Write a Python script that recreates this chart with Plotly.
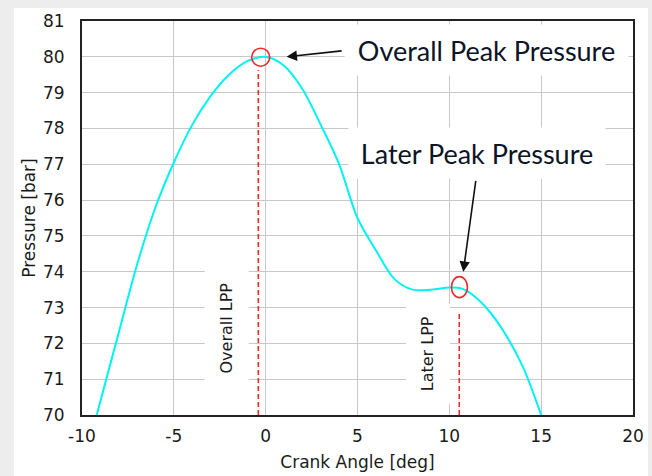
import plotly.graph_objects as go

# ---- data ----
crank_angle = [-9.2, -8.0, -7.0, -6.0, -5.0, -4.0, -3.0, -2.0, -1.0, 0.0,
               1.0, 2.0, 3.0, 4.0, 5.0, 6.0, 7.0, 8.0, 9.0, 10.0, 10.5,
               11.0, 12.0, 13.0, 14.0, 15.0]
pressure = [70.0, 72.3, 74.2, 75.8, 77.05, 78.1, 78.9, 79.5, 79.88, 80.0,
            79.75, 79.1, 78.1, 77.0, 75.5, 74.6, 73.8, 73.5, 73.5, 73.56, 73.55,
            73.45, 73.0, 72.3, 71.35, 70.0]

overall_lpp_x = -0.4
overall_peak = (-0.27, 79.99)
overall_line_top = 79.63
later_lpp_x = 10.54
later_peak = (10.55, 73.57)
later_line_top = 72.9

x_ticks = [-10, -5, 0, 5, 10, 15, 20]
x_tick_text = ["-10", "-5", "0", "5", "10", "15", "20"]
y_ticks = list(range(70, 82))

label_overall_peak = "Overall Peak Pressure"
label_later_peak = "Later Peak Pressure"
label_overall_lpp = "Overall LPP"
label_later_lpp = "Later LPP"

CYAN = "#00f2f2"
RED = "#ee2a2a"
TXT = "#1a1a1a"

fig = go.Figure()

fig.add_trace(go.Scatter(x=crank_angle, y=pressure, mode="lines",
                         line=dict(color=CYAN, width=2, shape="spline", smoothing=0.9),
                         hoverinfo="skip"))
fig.add_trace(go.Scatter(x=[overall_lpp_x, overall_lpp_x], y=[70, overall_line_top], mode="lines",
                         line=dict(color=RED, width=1.6, dash="5px,3px")))
fig.add_trace(go.Scatter(x=[later_lpp_x, later_lpp_x], y=[70, later_line_top], mode="lines",
                         line=dict(color=RED, width=1.6, dash="5px,3px")))

shapes = [
    # white card on grey page
    dict(type="rect", xref="paper", yref="paper", x0=-0.1234, x1=1.0272, y0=-0.17, y1=1.033,
         fillcolor="white", line=dict(width=0), layer="below"),
    dict(type="circle", xref="x", yref="y", xsizemode="pixel", ysizemode="pixel",
         xanchor=overall_peak[0], yanchor=overall_peak[1], x0=-9, x1=9, y0=-9, y1=9,
         line=dict(color=RED, width=1.6)),
    dict(type="circle", xref="x", yref="y", xsizemode="pixel", ysizemode="pixel",
         xanchor=later_peak[0], yanchor=later_peak[1], x0=-8, x1=8, y0=-10.5, y1=10.5,
         line=dict(color=RED, width=1.6)),
]

big_font = dict(family="Lato, Carlito, sans-serif", size=27, color="#0c1426")
small_font = dict(family="DejaVu Sans", size=16, color=TXT)

annotations = [
    dict(x=12.02, y=80.2, xref="x", yref="y", text=label_overall_peak, showarrow=False,
         font=big_font, bgcolor="white", width=283, height=50, borderpad=0),
    dict(x=11.5, y=77.31, xref="x", yref="y", text=label_later_peak, showarrow=False,
         font=big_font, bgcolor="white", width=256, height=50, borderpad=0),
    dict(x=-2.11, y=72.44, xref="x", yref="y", text=label_overall_lpp, showarrow=False,
         textangle=-90, font=small_font, bgcolor="white", borderpad=12),
    dict(x=8.83, y=71.72, xref="x", yref="y", text=label_later_lpp, showarrow=False,
         textangle=-90, font=small_font, bgcolor="white", borderpad=12),
    # arrows
    dict(x=1.14, y=80.0, ax=4.22, ay=80.17, xref="x", yref="y", axref="x", ayref="y",
         text="", showarrow=True, arrowhead=2, arrowsize=1.3, arrowwidth=1.6,
         arrowcolor="#111111", standoff=0, startstandoff=0),
    dict(x=10.76, y=74.0, ax=11.45, ay=76.58, xref="x", yref="y", axref="x", ayref="y",
         text="", showarrow=True, arrowhead=2, arrowsize=1.3, arrowwidth=1.6,
         arrowcolor="#111111", standoff=0, startstandoff=0),
]

axis_common = dict(showgrid=True, gridcolor="#c8c8c8", gridwidth=1.2, zeroline=False,
                   showline=True, linecolor="#222222", linewidth=2, mirror=True,
                   automargin=False,
                   ticks="", tickfont=dict(family="DejaVu Sans", size=17, color=TXT))

fig.update_layout(
    width=652, height=476,
    margin=dict(l=82, r=19, t=21, b=61),
    paper_bgcolor="#ededed", plot_bgcolor="white",
    showlegend=False,
    shapes=shapes, annotations=annotations,
    xaxis=dict(range=[-10, 20], tickvals=x_ticks, ticktext=x_tick_text, ticklabelstandoff=5,
               title=dict(text="Crank Angle [deg]", standoff=11,
                          font=dict(family="DejaVu Sans", size=17, color=TXT)),
               **axis_common),
    yaxis=dict(range=[70, 81], tickvals=y_ticks, ticklabelstandoff=12,
               title=dict(text="Pressure [bar]", standoff=3,
                          font=dict(family="DejaVu Sans", size=17, color=TXT)),
               **axis_common),
)

fig.write_html("out.html")
